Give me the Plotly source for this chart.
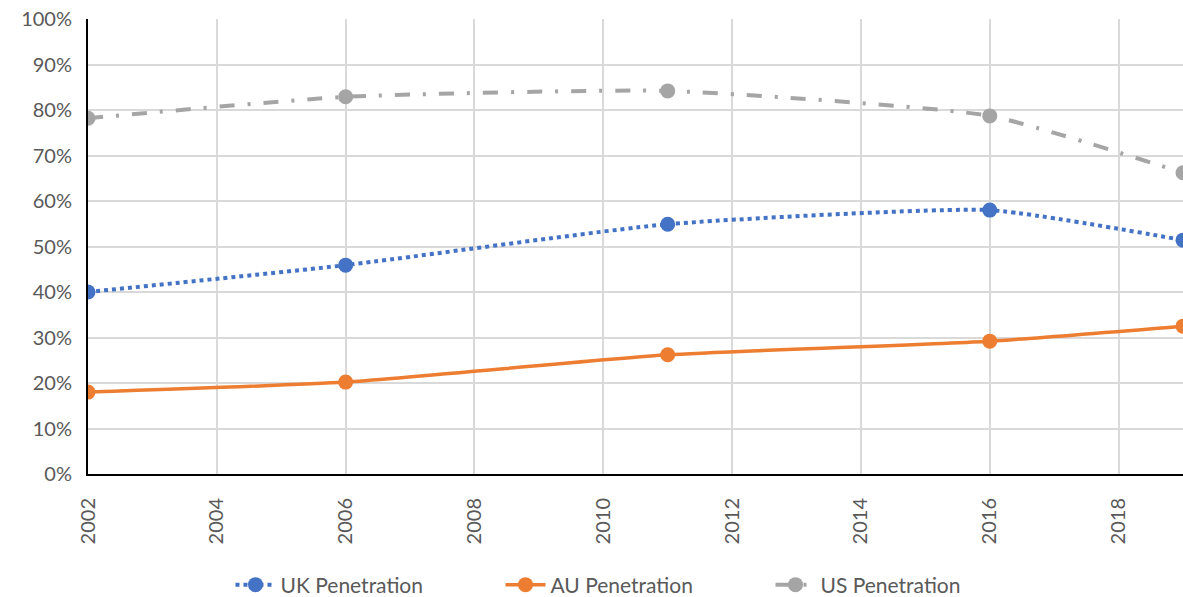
import plotly.graph_objects as go

years = [2002, 2006, 2011, 2016, 2019]
uk = [0.40, 0.459, 0.549, 0.580, 0.514]
au = [0.180, 0.202, 0.262, 0.292, 0.325]
us = [0.782, 0.829, 0.842, 0.787, 0.662]
x_ticks = list(range(2002, 2019, 2))

fig = go.Figure()
fig.add_trace(go.Scatter(x=years, y=uk, name="UK Penetration", mode="lines+markers",
                         line=dict(color="#4472C4", width=4, dash="4px,4px", shape="spline", smoothing=0.5),
                         marker=dict(size=15, color="#4472C4")))
fig.add_trace(go.Scatter(x=years, y=au, name="AU Penetration", mode="lines+markers",
                         line=dict(color="#ED7D31", width=3.5, shape="spline", smoothing=0.5),
                         marker=dict(size=15, color="#ED7D31")))
fig.add_trace(go.Scatter(x=years, y=us, name="US Penetration", mode="lines+markers",
                         line=dict(color="#A5A5A5", width=4, dash="15px,13px,3px,13px", shape="spline", smoothing=0.5),
                         marker=dict(size=15, color="#A5A5A5")))

fig.update_layout(
    width=1183, height=597,
    margin=dict(l=88, r=0, t=19, b=123, autoexpand=False),
    plot_bgcolor="white", paper_bgcolor="white",
    font=dict(family="Lato, Open Sans, sans-serif", size=20, color="#595959"),
    legend=dict(orientation="h", x=0.5, xanchor="center", xref="paper",
                y=-0.244, yanchor="middle", font=dict(size=21, color="#595959"),
                itemwidth=40, entrywidth=215),
    showlegend=True,
)
fig.update_xaxes(range=[2002, 2019], tickvals=x_ticks, ticktext=[str(t) for t in x_ticks],
                 tickangle=-90, showgrid=True, gridcolor="#D9D9D9", gridwidth=2,
                 showline=True, linecolor="black", linewidth=2, zeroline=False, ticks="",
                 ticklabelstandoff=14, automargin=False)
fig.update_yaxes(range=[0, 1], dtick=0.1, tickformat=".0%", showgrid=True,
                 gridcolor="#D9D9D9", gridwidth=2, showline=True, linecolor="black",
                 linewidth=2, zeroline=False, ticks="", ticklabelstandoff=10, automargin=False)

fig.write_html("out.html", config={"displayModeBar": False},
               post_script="document.body.style.margin='0';document.body.style.overflow='hidden';")
